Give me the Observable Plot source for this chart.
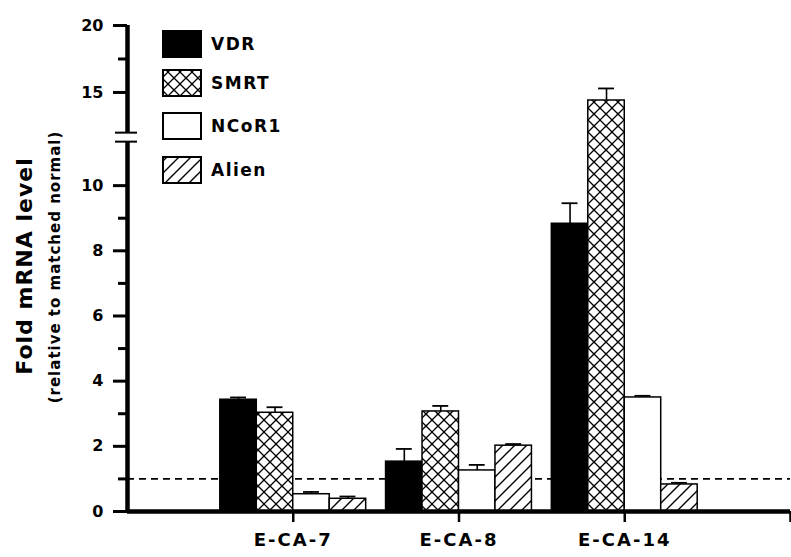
<!DOCTYPE html>
<html>
<head>
<meta charset="utf-8">
<script src="https://cdn.jsdelivr.net/npm/d3@7"></script>
<script src="https://cdn.jsdelivr.net/npm/@observablehq/plot@0.6"></script>
<style>
  html, body { margin: 0; padding: 0; background: #fff; }
  #chart { width: 791px; height: 557px; }
  svg text { font-family: "DejaVu Sans", sans-serif; font-weight: bold; }
</style>
</head>
<body>
<div id="chart"></div>
<script>
// ---- data ----
const groups = ["E-CA-7", "E-CA-8", "E-CA-14"];
const series = ["VDR", "SMRT", "NCoR1", "Alien"];
const vdr   = [3.43, 1.53, 8.83];
const vdrErr   = [0.07, 0.39, 0.63];
const smrt  = [3.03, 3.07, 14.4];
const smrtErr  = [0.17, 0.17, 0.9];
const ncor1 = [0.53, 1.26, 3.5];
const ncor1Err = [0.07, 0.17, 0.05];
const alien = [0.39, 2.02, 0.83];
const alienErr = [0.07, 0.05, 0.05];
const yMajorTicks = [0, 2, 4, 6, 8, 10, 15, 20];
const yMinorTicks = [1, 3, 5, 7, 9, 17.5];
const baseline = [1];
const yBreak = [11.35, 12];

// ---- broken-axis transform (lower segment 1:1, upper segment compressed) ----
const gapUnits = 0.276, upperRatio = 0.411;
function brk(v) {
  if (v <= yBreak[0]) return v;
  if (v >= yBreak[1]) return yBreak[0] + gapUnits + (v - yBreak[1]) * upperRatio;
  return yBreak[0] + (v - yBreak[0]) / (yBreak[1] - yBreak[0]) * gapUnits;
}

// ---- build table ----
const values = [vdr, smrt, ncor1, alien];
const errs = [vdrErr, smrtErr, ncor1Err, alienErr];
const fills = ["black", "url(#pat-smrt)", "white", "url(#pat-alien)"];
const rows = [];
series.forEach((s, si) => groups.forEach((g, gi) => rows.push({
  series: s, si, group: g, gi: gi + 1, value: values[si][gi], err: errs[si][gi]
})));
const xPx = 663 / 4;         // pixels per group unit (for small axis decorations)
const bw = 0.22;             // bar width in group units
const cap = 0.048;           // half width of error cap
const x1 = d => d.gi + (d.si - 2) * bw;
const x2 = d => d.gi + (d.si - 1) * bw;
const xc = d => d.gi + (d.si - 1.5) * bw;

const barMarks = series.map((s, si) =>
  Plot.rectY(rows.filter(d => d.si === si), {
    x1, x2, y1: 0, y2: "value", fill: fills[si], stroke: "black", strokeWidth: 1.5
  })
);

const svg = Plot.plot({
  width: 791, height: 557,
  marginLeft: 127, marginRight: 1, marginTop: 25, marginBottom: 46,
  x: {domain: [0, 4], range: [127, 790]},
  y: {type: "linear", transform: brk, domain: [0, brk(20)], axis: null},
  style: {fontFamily: "DejaVu Sans", fontWeight: "bold", color: "black", background: "white"},
  marks: [
    Plot.ruleY(baseline, {x1: 0, x2: 4, stroke: "black", strokeWidth: 1.6, strokeDasharray: "7,5"}),
    ...barMarks,
    Plot.ruleX(rows, {x: xc, y1: "value", y2: d => d.value + d.err, stroke: "black", strokeWidth: 1.6}),
    Plot.ruleY(rows, {y: d => d.value + d.err, x1: d => xc(d) - cap, x2: d => xc(d) + cap, stroke: "black", strokeWidth: 1.8}),
    // broken y axis: line segments, break marks, ticks and labels
    Plot.ruleX([{a: 0, b: yBreak[0]}, {a: yBreak[1], b: 20}], {x: 0, y1: "a", y2: "b", stroke: "black", strokeWidth: 4.5}),
    Plot.ruleY(yBreak, {y: d => d, x1: -12 / xPx, x2: 10 / xPx, stroke: "black", strokeWidth: 2}),
    Plot.ruleY(yMajorTicks, {y: d => d, x1: -14 / xPx, x2: 0, stroke: "black", strokeWidth: 3}),
    Plot.ruleY(yMinorTicks, {y: d => d, x1: -9 / xPx, x2: 0, stroke: "black", strokeWidth: 3}),
    Plot.text(yMajorTicks, {y: d => d, text: d => String(d), frameAnchor: "left", dx: -24, textAnchor: "end", fontSize: 16, fontWeight: "bold"}),
    // x axis
    Plot.ruleY([0], {x1: 0, x2: 4, stroke: "black", strokeWidth: 4.5}),
    Plot.axisX({ticks: [1, 2, 3, 4], tickFormat: i => groups[i - 1] ?? "", tickSize: 11, tickPadding: 11, fontSize: 18, strokeWidth: 2.5, label: null})
  ]
});

document.getElementById("chart").appendChild(svg);
const s = d3.select(svg);
s.selectAll("g[aria-label='x-axis tick label'] text").style("letter-spacing", "2px");

// patterns
const defs = s.insert("defs", ":first-child");
const p1 = defs.append("pattern").attr("id", "pat-smrt").attr("patternUnits", "userSpaceOnUse")
  .attr("width", 12).attr("height", 12);
p1.append("rect").attr("width", 12).attr("height", 12).attr("fill", "white");
p1.append("path").attr("d", "M0,0L12,12M12,0L0,12").attr("stroke", "black").attr("stroke-width", 1.3);
p1.append("circle").attr("cx", 6).attr("cy", 6).attr("r", 1.2).attr("fill", "black");
const p2 = defs.append("pattern").attr("id", "pat-alien").attr("patternUnits", "userSpaceOnUse")
  .attr("width", 12).attr("height", 12);
p2.append("rect").attr("width", 12).attr("height", 12).attr("fill", "white");
p2.append("path").attr("d", "M-3,15L15,-3M-3,3L3,-3M9,15L15,9").attr("stroke", "black").attr("stroke-width", 1.4);

// y-axis title
s.append("text").attr("transform", "translate(24,266) rotate(-90)")
  .attr("text-anchor", "middle").attr("dominant-baseline", "central")
  .style("font-size", "22px").style("letter-spacing", "1px").text("Fold mRNA level");
s.append("text").attr("transform", "translate(55,267) rotate(-90)")
  .attr("text-anchor", "middle").attr("dominant-baseline", "central")
  .style("font-size", "15px").style("letter-spacing", "1px").text("(relative to matched normal)");

// legend
const lg = s.append("g").attr("text-anchor", "start");
const legendY = [31, 70, 113, 157];
series.forEach((name, i) => {
  lg.append("rect").attr("x", 163).attr("y", legendY[i]).attr("width", 38).attr("height", 26)
    .attr("fill", fills[i]).attr("stroke", "black").attr("stroke-width", 2);
  lg.append("text").attr("x", 211).attr("y", legendY[i] + 13).attr("dominant-baseline", "central")
    .attr("text-anchor", "start")
    .style("font-size", "17px").style("letter-spacing", "1.5px").text(name);
});
</script>
</body>
</html>
